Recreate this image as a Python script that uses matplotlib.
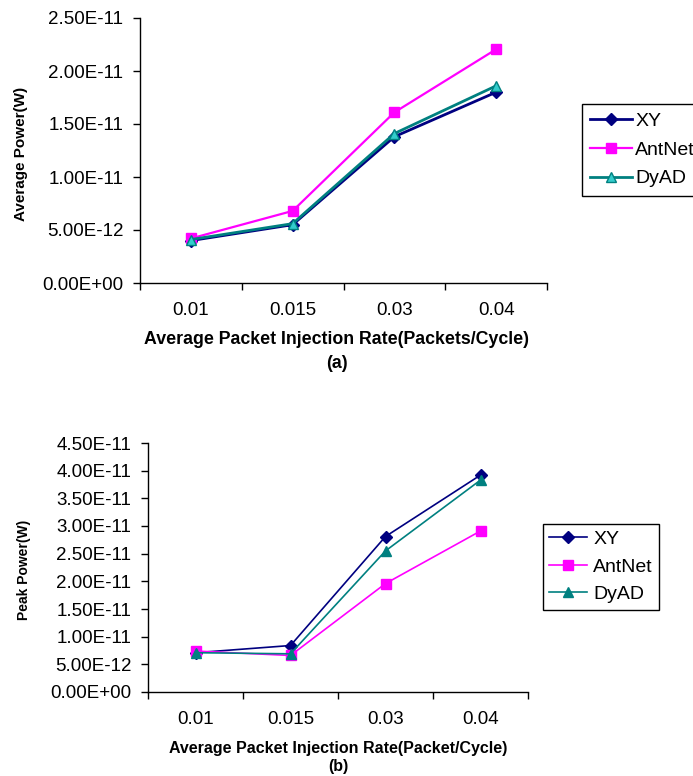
import matplotlib
matplotlib.use("Agg")
import matplotlib.pyplot as plt
from matplotlib.ticker import FixedLocator, FuncFormatter, NullFormatter

plt.rcParams['font.family'] = ['Liberation Sans', 'DejaVu Sans']

categories = ["0.01", "0.015", "0.03", "0.04"]
series_names = ["XY", "AntNet", "DyAD"]

avg_xy = [4.0e-12, 5.5e-12, 1.38e-11, 1.80e-11]
avg_antnet = [4.2e-12, 6.8e-12, 1.61e-11, 2.205e-11]
avg_dyad = [4.1e-12, 5.6e-12, 1.41e-11, 1.86e-11]

peak_xy = [7.1e-12, 8.4e-12, 2.81e-11, 3.92e-11]
peak_antnet = [7.4e-12, 6.6e-12, 1.96e-11, 2.91e-11]
peak_dyad = [7.1e-12, 6.9e-12, 2.55e-11, 3.83e-11]

avg_yticks = [0, 5e-12, 1e-11, 1.5e-11, 2e-11, 2.5e-11]
peak_yticks = [0, 5e-12, 1e-11, 1.5e-11, 2e-11, 2.5e-11, 3e-11, 3.5e-11, 4e-11, 4.5e-11]

W, H = 693, 776
fig = plt.figure(figsize=(W / 100, H / 100), dpi=100)

TICK_FS = 13.5

def style_axes(ax, yticks, ymax):
    n = len(categories)
    ax.set_xlim(-0.5, n - 0.5)
    ax.set_ylim(0, ymax)
    ax.spines['top'].set_visible(False)
    ax.spines['right'].set_visible(False)
    for s in ('left', 'bottom'):
        ax.spines[s].set_linewidth(1.0)
        ax.spines[s].set_color('black')
    ax.xaxis.set_major_locator(FixedLocator([i - 0.5 for i in range(n + 1)]))
    ax.xaxis.set_major_formatter(NullFormatter())
    ax.xaxis.set_minor_locator(FixedLocator(list(range(n))))
    ax.set_xticklabels(categories, minor=True)
    ax.tick_params(axis='x', which='major', direction='out', length=5, width=1)
    ax.tick_params(axis='x', which='minor', length=0, pad=14, labelsize=TICK_FS)
    ax.yaxis.set_major_locator(FixedLocator(yticks))
    ax.yaxis.set_major_formatter(FuncFormatter(lambda v, p: f"{v:.2E}"))
    ax.tick_params(axis='y', direction='out', length=5, width=1, labelsize=TICK_FS, pad=7)

x = list(range(len(categories)))

# ---- Top chart (a)
ax1 = fig.add_axes([140 / W, 1 - 283 / H, 407 / W, 265 / H])
ax1.plot(x, avg_xy, color='#000080', lw=2, marker='D', ms=6, mfc='#000080', mec='#000080', label=series_names[0])
ax1.plot(x, avg_antnet, color='#FF00FF', lw=1.6, marker='s', ms=7, mfc='#FF00FF', mec='#FF00FF', label=series_names[1])
ax1.plot(x, avg_dyad, color='#008080', lw=2, marker='^', ms=7, mfc='#33CCCC', mec='#008080', label=series_names[2])
style_axes(ax1, avg_yticks, 2.5e-11)
fig.text(21 / W, 1 - 154 / H, "Average Power(W)", rotation=90, ha='center', va='center',
         fontsize=11, fontweight='bold')
fig.text(336.5 / W, 1 - 339 / H, "Average Packet Injection Rate(Packets/Cycle)", ha='center', va='center',
         fontsize=12.8, fontweight='bold')
fig.text(336.5 / W, 1 - 363 / H, "(a)", ha='center', va='center', fontsize=12.8, fontweight='bold')
leg1 = fig.legend(handles=ax1.get_lines(), loc='upper left', bbox_to_anchor=(582 / W, 1 - 104 / H),
                  borderaxespad=0, fontsize=14, handlelength=2.15, handletextpad=0.15,
                  labelspacing=0.57, borderpad=0.43, fancybox=False, edgecolor='black', framealpha=1)
leg1.get_frame().set_linewidth(1.0)

# ---- Bottom chart (b)
ax2 = fig.add_axes([148 / W, 1 - 692 / H, 380 / W, 249 / H])
ax2.plot(x, peak_xy, color='#000080', lw=1.2, marker='D', ms=6, mfc='#000080', mec='#000080', label=series_names[0])
ax2.plot(x, peak_antnet, color='#FF00FF', lw=1.2, marker='s', ms=6.5, mfc='#FF00FF', mec='#FF00FF', label=series_names[1])
ax2.plot(x, peak_dyad, color='#008080', lw=1.2, marker='^', ms=7, mfc='#008080', mec='#008080', label=series_names[2])
style_axes(ax2, peak_yticks, 4.5e-11)
fig.text(24 / W, 1 - 570 / H, "Peak Power(W)", rotation=90, ha='center', va='center',
         fontsize=10, fontweight='bold')
fig.text(338.5 / W, 1 - 748 / H, "Average Packet Injection Rate(Packet/Cycle)", ha='center', va='center',
         fontsize=11.5, fontweight='bold')
fig.text(338.5 / W, 1 - 767 / H, "(b)", ha='center', va='center', fontsize=11.5, fontweight='bold')
leg2 = fig.legend(handles=ax2.get_lines(), loc='upper left', bbox_to_anchor=(543 / W, 1 - 524 / H),
                  borderaxespad=0, fontsize=14, handlelength=1.96, handletextpad=0.3,
                  labelspacing=0.52, borderpad=0.32, fancybox=False, edgecolor='black', framealpha=1)
leg2.get_frame().set_linewidth(1.0)

fig.savefig("out.png", dpi=100)
